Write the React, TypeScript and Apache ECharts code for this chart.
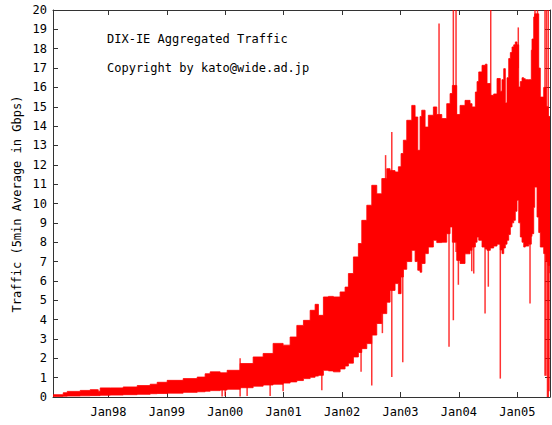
import React, { useEffect, useRef } from "react";
import * as echarts from "echarts";

// decimal years of the band samples
const bandYears = [
  1997.054, 1997.225, 1997.294, 1997.516, 1997.687, 1997.807, 1997.824, 1997.858,
  1998.03, 1998.252, 1998.492, 1998.714, 1998.834, 1999.005, 1999.279, 1999.519,
  1999.655, 1999.741, 1999.912, 2000.032, 2000.254, 2000.477, 2000.648, 2000.819,
  2000.99, 2001.11, 2001.225, 2001.338, 2001.453, 2001.538, 2001.595, 2001.68,
  2001.766, 2001.851, 2001.966, 2002.051, 2002.108, 2002.194, 2002.279, 2002.337,
  2002.423, 2002.508, 2002.594, 2002.68, 2002.765, 2002.822, 2002.907, 2002.964,
  2003.01, 2003.049, 2003.107, 2003.193, 2003.25, 2003.296, 2003.335, 2003.364,
  2003.421, 2003.477, 2003.563, 2003.621, 2003.707, 2003.792, 2003.849, 2003.888,
  2003.963, 2004.02, 2004.105, 2004.191, 2004.225, 2004.282, 2004.311, 2004.34,
  2004.396, 2004.453, 2004.482, 2004.538, 2004.596, 2004.653, 2004.709, 2004.738,
  2004.768, 2004.795, 2004.824, 2004.853, 2004.881, 2004.91, 2004.939, 2004.966,
  2004.995, 2005.024, 2005.052, 2005.081, 2005.11, 2005.137, 2005.196, 2005.24,
  2005.252, 2005.281, 2005.298, 2005.338, 2005.367, 2005.394, 2005.452, 2005.492,
  2005.526, 2005.56,
];
// lower edge of the traffic band (Gbps)
const bandLow = [
  0.03, 0.04, 0.05, 0.06, 0.07, 0.07, 0.07, 0.09,
  0.1, 0.12, 0.14, 0.17, 0.18, 0.2, 0.24, 0.27,
  0.3, 0.33, 0.36, 0.4, 0.48, 0.56, 0.62, 0.66,
  0.72, 0.78, 0.85, 0.95, 1.02, 1.08, 1.12, 1.38,
  1.35, 1.3, 1.45, 1.6, 1.75, 2.07, 2.3, 2.5,
  2.76, 3.2, 3.8, 4.31, 4.9, 5.51, 5.86, 5.34,
  6.2, 6.6, 7.0, 7.58, 7.0, 6.55, 6.45, 6.9,
  7.41, 7.75, 8.1, 7.98, 8.0, 8.44, 8.79, 8.0,
  7.06, 6.9, 7.4, 7.58, 7.75, 8.0, 8.27, 8.1,
  7.75, 7.65, 7.58, 7.7, 7.8, 7.9, 7.6, 7.41,
  7.7, 7.9, 8.1, 8.4, 8.79, 9.0, 9.13, 9.6,
  10.17, 9.0, 8.27, 8.0, 7.75, 7.8, 7.9, 8.3,
  8.44, 9.8, 10.85, 9.3, 8.5, 7.75, 7.41, 7.0,
  6.8, 6.4,
];
// upper edge of the traffic band (Gbps)
const bandHigh = [
  0.12, 0.22, 0.29, 0.34, 0.38, 0.38, 0.3, 0.47,
  0.47, 0.52, 0.59, 0.66, 0.76, 0.86, 0.95, 1.03,
  1.2, 1.3, 1.25, 1.38, 1.73, 2.07, 2.25, 2.77,
  2.68, 3.1, 3.7, 3.96, 4.48, 4.79, 4.22, 5.17,
  5.2, 5.17, 5.43, 5.68, 6.38, 7.24, 7.93, 9.13,
  9.91, 10.94, 10.5, 11.29, 11.8, 11.7, 11.63, 11.9,
  12.58, 13.27, 14.3, 15.07, 14.47, 12.75, 14.5, 14.82,
  13.95, 14.56, 14.99, 14.6, 14.39, 15.16, 15.68, 16.1,
  14.6, 15.07, 15.33, 15.16, 14.99, 15.76, 16.3, 16.8,
  17.14, 17.2, 16.2, 15.59, 15.66, 16.46, 15.8, 16.4,
  16.97, 15.2, 16.5, 17.49, 17.8, 18.09, 18.2, 18.35,
  18.2, 16.02, 16.3, 16.5, 16.45, 16.4, 16.4, 17.92,
  18.5, 19.64, 19.8, 19.8, 17.0, 15.5, 16.0, 15.0,
  14.5, 13.6,
];

// isolated spikes: year, low, high
const spikeYears = [
  1999.946, 1999.998, 2000.254, 2000.374, 2000.768, 2000.99, 2001.653, 2002.325,
  2002.508, 2002.69, 2002.745, 2002.851, 2003.039, 2003.66, 2003.831, 2003.905,
  2003.951, 2003.991, 2004.22, 2004.254, 2004.448, 2004.504, 2004.545, 2004.709,
  2005.017, 2005.218, 2005.303, 2005.346, 2005.474, 2005.49, 2005.5, 2005.517,
  2005.53, 2005.543,
];
const spikeLow = [
  0.02, 0.05, 0.03, 0.05, 0.05, 0.3, 0.35, 1.3,
  0.6, 3.3, 4.5, 1.03, 1.8, 14.0, 2.6, 3.96,
  7.5, 5.8, 6.5, 6.38, 4.31, 5.7, 15.0, 0.95,
  17.0, 4.83, 17.0, 17.0, 1.1, 1.1, 14.0, 0.0,
  0.0, 0.3,
];
const spikeHigh = [
  0.6, 0.6, 2.0, 0.8, 1.0, 1.0, 2.0, 3.0,
  4.0, 5.0, 12.5, 13.7, 7.0, 19.3, 9.0, 20,
  20, 7.5, 8, 8, 8, 8, 20, 8,
  19.1, 8.2, 20, 20, 20, 8, 20, 8,
  20, 8,
];

const xTickYears = [1998, 1999, 2000, 2001, 2002, 2003, 2004, 2005];
const xTickLabels = ["Jan98", "Jan99", "Jan00", "Jan01", "Jan02", "Jan03", "Jan04", "Jan05"];

const titleText = "DIX-IE Aggregated Traffic";
const copyrightText = "Copyright by kato@wide.ad.jp";
const yAxisTitle = "Traffic (5min Average in Gbps)";

const FONT = "DejaVu Sans Mono";
const AXIS_COLOR = "#333333";
const RED = "#ff0000";

export default function App() {
  const ref = useRef<HTMLDivElement>(null);

  useEffect(() => {
    if (!ref.current) return;
    const chart = echarts.init(ref.current, null, { renderer: "svg" });

    // one row per band sample; the custom series draws them as a single stepped polygon
    const bandData = bandYears.map((y, i) => [y, bandLow[i], bandHigh[i]]);
    const spikeData = spikeYears.map((y, i) => [y, spikeLow[i], spikeHigh[i]]);

    const labelFor = (v: number) => {
      const idx = xTickYears.indexOf(Math.round(v));
      return idx >= 0 ? xTickLabels[idx] : "";
    };

    const xCommon = {
      type: "value" as const,
      min: 1997.05,
      max: 2005.56,
      splitLine: { show: false },
      axisLine: { show: true, onZero: false, lineStyle: { color: AXIS_COLOR, width: 1 } },
      axisTick: {
        show: true,
        inside: true,
        length: 5,
        customValues: xTickYears,
        lineStyle: { color: AXIS_COLOR },
      },
    };
    const yCommon = {
      type: "value" as const,
      min: 0,
      max: 20,
      interval: 1,
      splitLine: { show: false },
      axisLine: { show: true, onZero: false, lineStyle: { color: AXIS_COLOR, width: 1 } },
      axisTick: { show: true, inside: true, length: 5, lineStyle: { color: AXIS_COLOR } },
    };

    chart.setOption({
      animation: false,
      backgroundColor: "#ffffff",
      grid: { left: 53, right: 2, top: 10, bottom: 28, containLabel: false },
      xAxis: [
        {
          ...xCommon,
          position: "bottom",
          axisLabel: {
            show: true,
            customValues: xTickYears,
            formatter: (v: number) => labelFor(v),
            color: "#000",
            fontFamily: FONT,
            fontSize: 12,
            margin: 9,
          },
        },
        {
          ...xCommon,
          position: "top",
          axisLabel: { show: false },
        },
      ],
      yAxis: [
        {
          ...yCommon,
          position: "left",
          axisLabel: { show: true, color: "#000", fontFamily: FONT, fontSize: 12, margin: 6 },
        },
        {
          ...yCommon,
          position: "right",
          axisLabel: { show: false },
        },
      ],
      series: [
        {
          type: "custom",
          name: "band",
          data: bandData,
          encode: { x: 0, y: [1, 2] },
          clip: true,
          silent: true,
          renderItem: (params: any, api: any) => {
            if (params.dataIndex !== 0) return null;
            const n = bandYears.length;
            const upper: number[][] = [];
            const lower: number[][] = [];
            for (let i = 0; i < n; i++) {
              const nextYear = i < n - 1 ? bandYears[i + 1] : bandYears[i];
              upper.push(api.coord([bandYears[i], bandHigh[i]]));
              upper.push(api.coord([nextYear, bandHigh[i]]));
              lower.push(api.coord([bandYears[i], bandLow[i]]));
              lower.push(api.coord([nextYear, bandLow[i]]));
            }
            const points = upper.concat(lower.reverse());
            return {
              type: "polygon",
              shape: { points },
              style: { fill: RED, stroke: RED, lineWidth: 0.8 },
            };
          },
        },
        {
          type: "custom",
          name: "spikes",
          data: spikeData,
          encode: { x: 0, y: [1, 2] },
          clip: true,
          silent: true,
          renderItem: (_params: any, api: any) => {
            const p1 = api.coord([api.value(0), api.value(1)]);
            const p2 = api.coord([api.value(0), api.value(2)]);
            return {
              type: "line",
              shape: { x1: p1[0], y1: p1[1], x2: p2[0], y2: p2[1] },
              style: { stroke: RED, lineWidth: 1.5, opacity: 0.8 },
            };
          },
        },
      ],
      graphic: [
        {
          type: "text",
          left: 107,
          top: 33,
          style: { text: titleText, fill: "#000", font: `12px "${FONT}"` },
        },
        {
          type: "text",
          left: 107,
          top: 62,
          style: { text: copyrightText, fill: "#000", font: `12px "${FONT}"` },
        },
        {
          type: "text",
          x: 17,
          y: 204,
          rotation: Math.PI / 2,
          style: {
            text: yAxisTitle,
            fill: "#000",
            font: `12px "${FONT}"`,
            textAlign: "center",
            textVerticalAlign: "middle",
          },
        },
      ],
    });

    return () => chart.dispose();
  }, []);

  return (
    <div
      ref={ref}
      style={{ position: "fixed", left: 0, top: 0, width: 552, height: 425, background: "#fff" }}
    />
  );
}
